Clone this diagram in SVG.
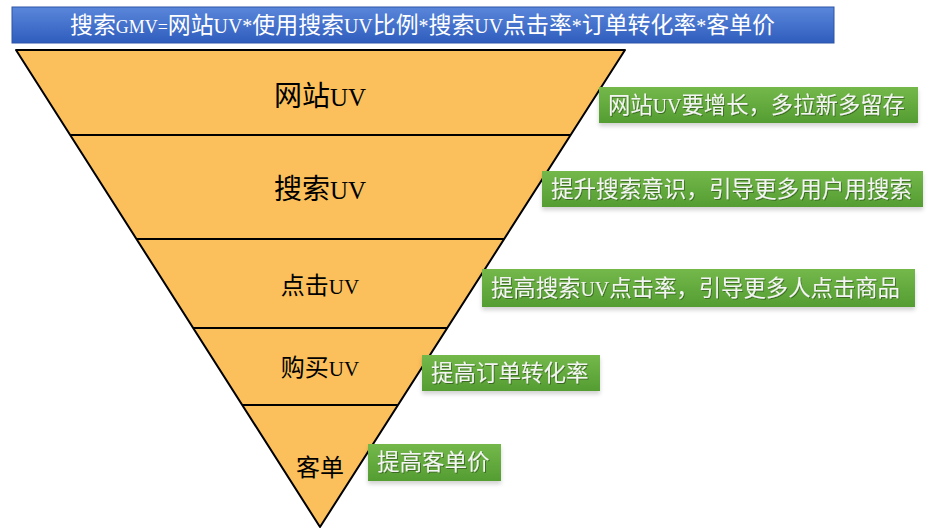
<svg xmlns="http://www.w3.org/2000/svg" width="931" height="530" viewBox="0 0 931 530">
<defs>
<linearGradient id="gBlue" x1="0" y1="0" x2="0" y2="1">
<stop offset="0" stop-color="#5a86da"/>
<stop offset="1" stop-color="#2f5dbd"/>
</linearGradient>
<linearGradient id="gGreen" x1="0" y1="0" x2="0" y2="1">
<stop offset="0" stop-color="#74b84a"/>
<stop offset="1" stop-color="#549d32"/>
</linearGradient>
<filter id="sh" x="-5%" y="-20%" width="110%" height="150%">
<feDropShadow dx="0" dy="3" stdDeviation="2" flood-color="#000" flood-opacity="0.18"/>
</filter>
<filter id="tsh" x="-5%" y="-20%" width="110%" height="150%">
<feDropShadow dx="1" dy="1" stdDeviation="0.6" flood-color="#000" flood-opacity="0.35"/>
</filter>
</defs>
<style>
.cjk{font-family:"Noto Sans CJK SC","Noto Sans",sans-serif;}
.lat{font-family:"Liberation Serif","Noto Sans CJK SC",serif;}
.lay{fill:#fbc05b;stroke:#000;stroke-width:2;stroke-linejoin:round;}
.div{stroke:#000;stroke-width:2;fill:none;}
.main{font-size:28px;fill:#000;text-anchor:middle;}
.sub{font-size:24px;fill:#000;text-anchor:middle;}
.gbox{fill:url(#gGreen);filter:url(#sh);}
.gtxt{font-size:22.5px;fill:#f4f4f4;filter:url(#tsh);}
.ttl{font-size:23px;fill:#ffffff;}
</style>

<g id="title">
<rect x="12" y="7" width="822" height="36" fill="url(#gBlue)" stroke="#2c55a8" stroke-width="1"/>
<text class="cjk ttl" x="70" y="33" textLength="705" lengthAdjust="spacingAndGlyphs">搜索<tspan class="lat" font-size="18">GMV=</tspan>网站<tspan class="lat" font-size="20">UV*</tspan>使用搜索<tspan class="lat" font-size="20">UV</tspan>比例<tspan class="lat" font-size="20">*</tspan>搜索<tspan class="lat" font-size="20">UV</tspan>点击率<tspan class="lat" font-size="20">*</tspan>订单转化率<tspan class="lat" font-size="20">*</tspan>客单价</text>
</g>

<g id="funnel">
<polygon class="lay" points="16,50 625,50 320,527"/>
<line class="div" x1="70" y1="135" x2="571" y2="135"/>
<line class="div" x1="136" y1="239" x2="504" y2="239"/>
<line class="div" x1="193" y1="328" x2="447" y2="328"/>
<line class="div" x1="242" y1="405" x2="398" y2="405"/>
</g>

<g id="layer-site-uv">
<text class="cjk main" x="320" y="106">网站<tspan class="lat" font-size="25">UV</tspan></text>
</g>
<g id="layer-search-uv">
<text class="cjk main" x="320" y="199">搜索<tspan class="lat" font-size="25">UV</tspan></text>
</g>
<g id="layer-click-uv">
<text class="cjk sub" x="320" y="294">点击<tspan class="lat" font-size="21">UV</tspan></text>
</g>
<g id="layer-buy-uv">
<text class="cjk sub" x="320" y="376">购买<tspan class="lat" font-size="21">UV</tspan></text>
</g>
<g id="layer-order">
<text class="cjk sub" x="320" y="476">客单</text>
</g>

<g id="note-1">
<rect class="gbox" x="599" y="87" width="319" height="36"/>
<text class="cjk gtxt" x="608" y="113" textLength="297" lengthAdjust="spacingAndGlyphs">网站<tspan class="lat" font-size="20">UV</tspan>要增长，多拉新多留存</text>
</g>
<g id="note-2">
<rect class="gbox" x="542" y="171" width="381" height="36"/>
<text class="cjk gtxt" x="551" y="197" textLength="361" lengthAdjust="spacingAndGlyphs">提升搜索意识，引导更多用户用搜索</text>
</g>
<g id="note-3">
<rect class="gbox" x="482" y="269" width="433" height="38"/>
<text class="cjk gtxt" x="491" y="296" textLength="409" lengthAdjust="spacingAndGlyphs">提高搜索<tspan class="lat" font-size="20">UV</tspan>点击率，引导更多人点击商品</text>
</g>
<g id="note-4">
<rect class="gbox" x="422" y="355" width="178" height="36"/>
<text class="cjk gtxt" x="431" y="381">提高订单转化率</text>
</g>
<g id="note-5">
<rect class="gbox" x="368" y="444" width="133" height="37"/>
<text class="cjk gtxt" x="377" y="470">提高客单价</text>
</g>
</svg>
